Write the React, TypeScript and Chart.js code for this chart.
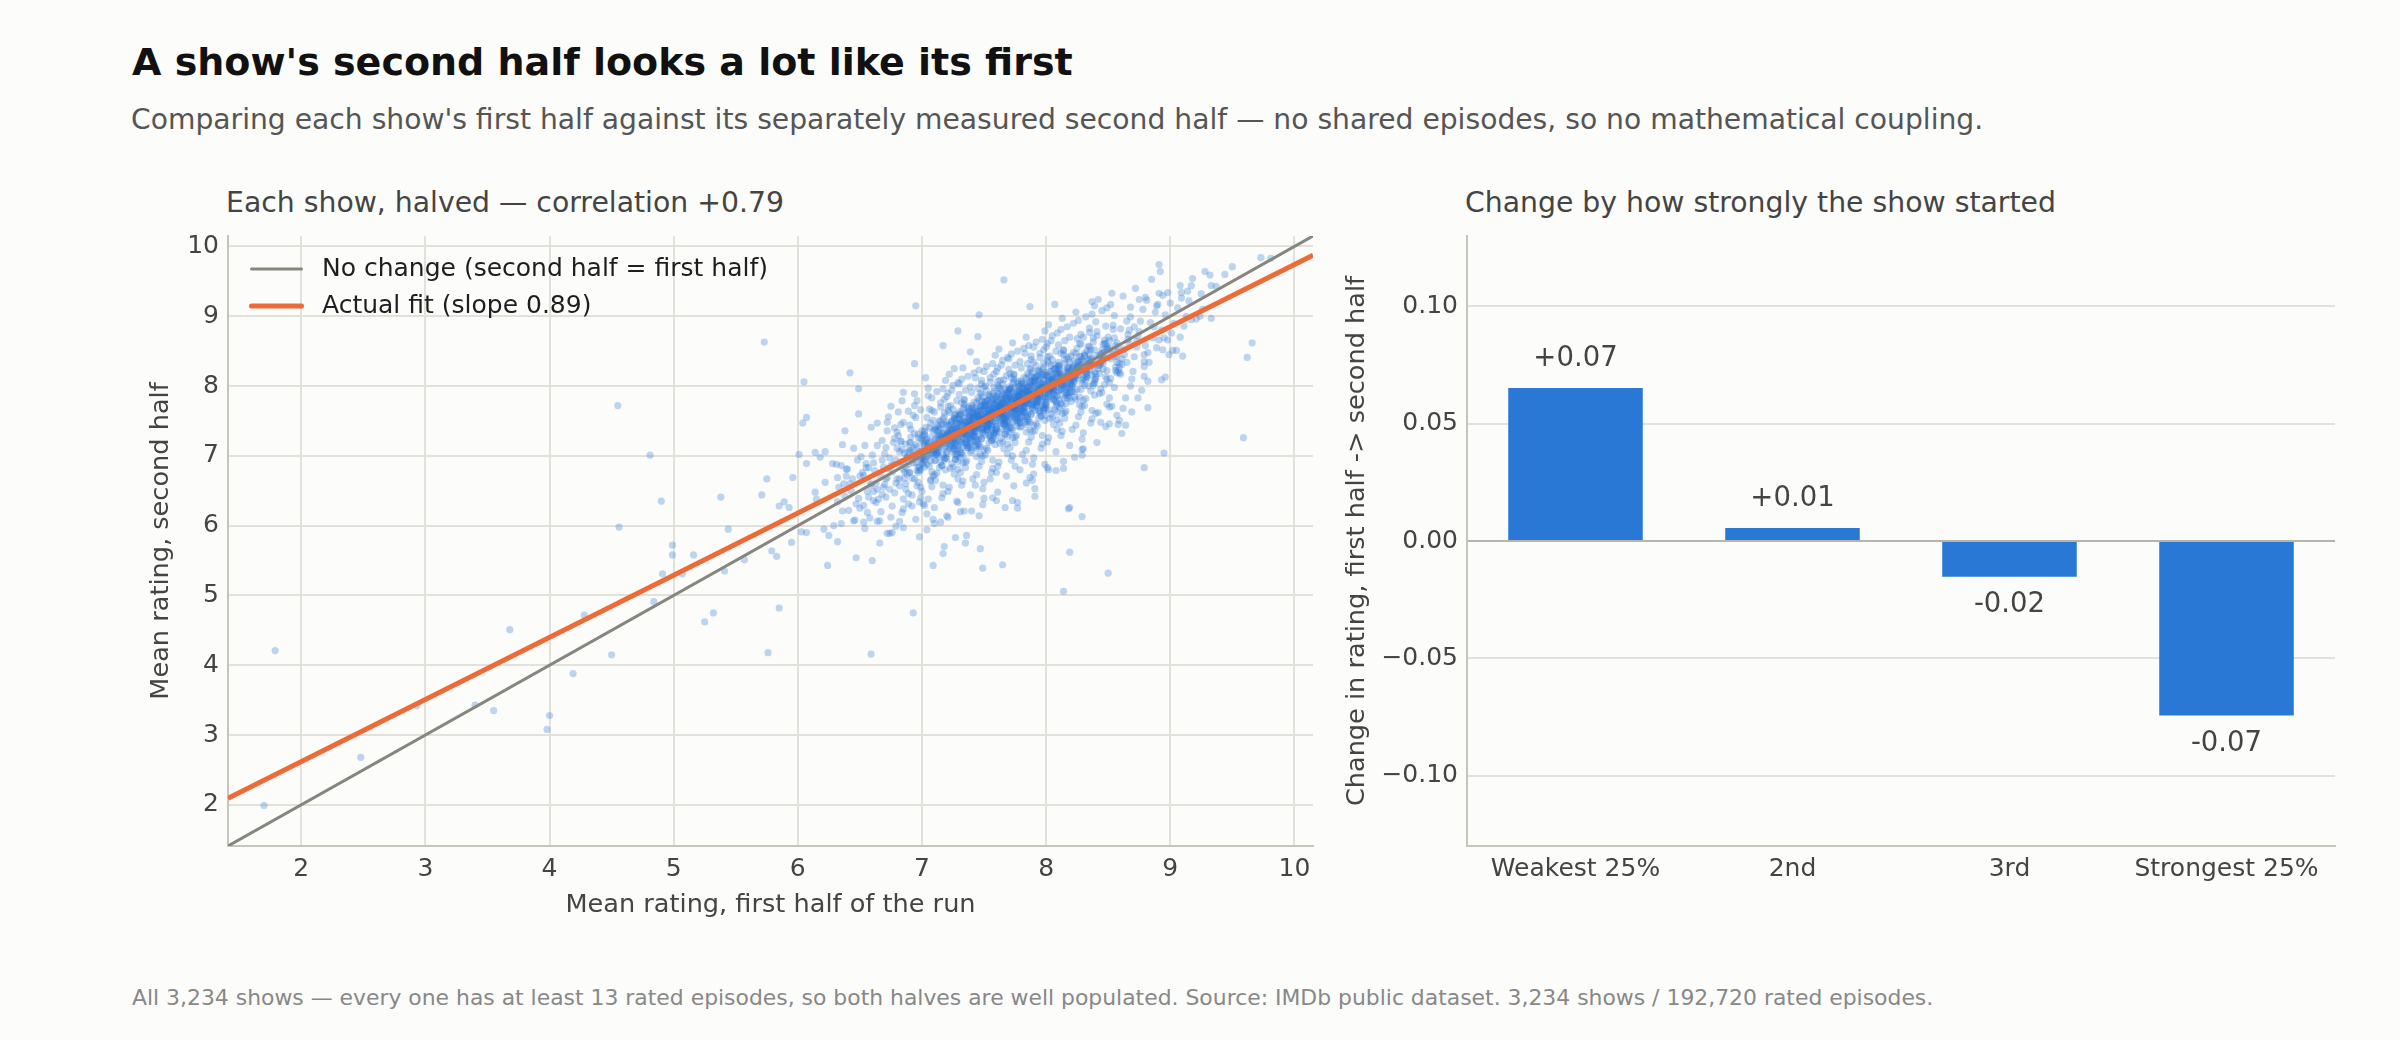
import React, { useEffect, useRef } from "react";
import { Chart, registerables } from "chart.js";

Chart.register(...registerables);

const FONT = "'DejaVu Sans', 'Noto Sans', sans-serif";
const BG = "#fcfcfa";
const INK = "#444444";
const GRID = "#e2e1da";
const SPINE = "#c5c5bc";
const ZERO = "#b5b5ad";
const BLUE = "#2a78d6";
const DOT = "rgba(42,120,214,0.3)";

// ---- Left panel: first-half vs second-half mean rating (values in hundredths, x,y pairs) ----
const ratingAxisMin = 1.41;
const ratingAxisMax = 10.15;
const ratingTickStep = 1;
const fitSlope = 0.89;
const fitIntercept = 0.84;

const outlierShows = [
  179,421, 170,199, 248,268, 293,342, 340,343, 355,335, 368,451, 400,328, 398,308, 419,388,
  428,472, 450,415, 455,772, 456,598, 481,701, 490,635, 484,491, 491,531, 499,572, 499,558,
  507,531, 516,558, 525,462, 532,475, 538,641, 544,595, 541,535, 557,551, 576,418, 659,416,
];

const lowerFringeShows = [
  573,863, 642,819, 605,806, 649,796, 694,832, 607,755, 604,747, 649,760, 638,736, 636,716,
  601,702, 607,689, 614,705, 618,698, 622,706, 628,689, 635,686, 639,681, 632,669, 596,669,
  575,667, 571,644, 585,628, 589,634, 593,626, 622,662, 614,648, 615,638, 603,591, 607,590,
  595,576, 579,564, 583,556, 621,595, 625,586, 629,600, 632,577, 624,543, 647,554, 660,550,
  666,575, 585,482, 645,607, 653,605, 656,619, 664,606, 672,589, 676,590, 679,599, 682,606,
  693,475, 709,543, 749,539, 765,544, 850,532, 814,506, 650,671, 655,683, 659,658, 664,652,
  671,667, 675,686, 682,667, 690,676, 694,667, 699,680, 653,629, 661,636, 668,645, 674,652,
  685,638, 692,644, 672,748, 678,740, 685,791, 689,764, 696,779,
];

const upperFringeShows = [
  766,952, 695,915, 746,902, 729,879, 745,871, 717,858, 739,849, 726,825, 703,812, 787,914,
  807,917, 837,921, 891,974, 973,984, 981,983, 950,971, 944,960, 932,959, 933,944, 937,943,
  914,936, 909,926, 900,919, 894,930, 891,933, 880,927, 889,915, 917,895, 924,900, 933,897,
  966,862, 962,841, 959,726, 908,870, 905,851, 910,843, 898,866, 894,852, 879,835, 882,848,
  896,813, 893,809, 882,769, 879,814, 874,783, 868,800, 861,732, 864,744, 858,745, 851,746,
  844,748, 862,768, 857,758, 851,770, 840,761, 895,704, 879,683, 829,709, 823,698, 814,682,
  808,679, 802,680, 799,688, 791,653, 791,642, 784,661, 787,669, 777,633, 777,625, 773,636,
  767,626, 760,636, 757,640, 746,614, 740,621, 731,620, 729,633, 720,614, 715,605, 709,609,
  685,624, 818,624, 819,626, 829,613, 819,562, 727,583, 736,586, 718,570, 717,560, 735,575,
  747,567, 698,634, 702,629,
];

const coreShowsLow = [
  633,655, 636,621, 631,688, 638,642, 635,603, 639,671, 632,634, 637,660,
  644,667, 641,622, 648,694, 643,650, 646,608, 640,681, 649,639, 645,711, 642,660, 647,631,
  652,676, 657,641, 654,715, 659,660, 650,625, 655,689, 658,611, 651,699, 656,649, 653,672, 659,741, 654,596, 657,683,
  661,690, 665,638, 668,722, 663,661, 667,620, 660,701, 669,655, 664,747, 662,679, 666,607, 668,694, 661,649, 664,715, 667,670, 663,633, 669,684,
  674,697, 670,659, 678,725, 672,669, 676,628, 671,712, 679,661, 673,756, 677,688, 675,612, 670,703, 678,647, 672,736, 676,677, 674,589, 679,694, 671,641, 677,719, 673,682, 675,771,
  682,706, 687,660, 680,734, 685,681, 689,646, 683,720, 686,668, 681,763, 688,697, 684,619, 680,711, 687,652, 683,745, 689,688, 685,597, 681,729, 688,674, 682,657, 686,704, 684,779, 689,631, 683,691, 687,717, 680,667, 685,748,
  693,711, 697,676, 690,744, 695,690, 699,655, 691,727, 696,679, 694,772, 698,706, 692,628, 690,719, 697,662, 693,758, 699,698, 695,609, 691,738, 698,684, 692,668, 696,713, 694,789, 699,640, 693,700, 697,726, 690,676, 695,755, 698,584, 691,709, 696,657, 694,732, 692,695, 699,766,
];

const coreShowsMid = [
  706,720, 701,689, 709,751, 703,699, 707,664, 700,736, 704,688, 708,783, 702,715, 705,638, 701,728, 709,671, 706,767, 700,707, 704,617, 707,747, 702,693, 708,677, 703,722, 705,797, 700,649, 709,709, 702,735, 706,685, 708,765, 704,594, 701,718, 707,666, 703,741, 709,704, 705,786, 700,696, 708,656, 702,730, 706,713, 704,755, 701,631, 707,702,
  715,729, 711,694, 718,762, 713,708, 710,673, 716,745, 719,697, 712,792, 714,724, 717,646, 711,737, 719,680, 715,776, 713,716, 710,626, 718,756, 712,702, 716,686, 714,731, 719,808, 717,658, 711,718, 713,744, 718,694, 715,770, 710,603, 716,727, 712,675, 714,750, 719,713, 717,796, 713,705, 711,665, 715,739, 718,722, 710,763, 716,640, 712,711, 719,729, 714,683, 717,753, 711,741, 713,700, 718,781, 715,691, 710,720,
  724,739, 729,703, 721,771, 726,717, 723,682, 728,754, 720,706, 725,801, 727,733, 722,655, 729,746, 724,689, 720,785, 726,725, 728,635, 721,765, 723,711, 727,695, 725,740, 722,817, 729,667, 724,727, 726,753, 720,703, 728,779, 721,612, 723,736, 725,684, 727,759, 722,722, 729,805, 724,714, 726,674, 720,748, 728,731, 723,772, 721,649, 725,720, 727,738, 729,692, 722,762, 724,750, 726,709, 721,790, 728,700, 723,729, 720,744, 725,767, 727,715, 729,681, 722,736, 726,724, 724,794, 720,696,
  731,748, 737,712, 734,780, 739,726, 735,691, 730,763, 736,715, 732,810, 738,742, 733,664, 737,755, 731,698, 735,794, 730,734, 739,644, 734,774, 736,720, 732,704, 738,749, 733,826, 731,676, 737,736, 735,762, 739,712, 730,788, 734,621, 732,745, 736,693, 738,768, 733,731, 737,814, 731,723, 735,683, 730,757, 739,740, 734,781, 732,658, 736,729, 738,747, 733,701, 737,771, 730,759, 735,718, 739,799, 731,709, 734,738, 738,753, 732,776, 736,724, 733,690, 737,745, 735,733, 730,803, 739,705, 734,770, 731,760, 736,741, 732,719, 738,764, 733,750,
  746,757, 741,721, 748,789, 743,735, 749,700, 740,772, 745,724, 742,819, 747,751, 744,673, 746,764, 740,707, 748,803, 743,743, 749,653, 745,783, 741,729, 747,713, 742,758, 744,835, 746,685, 740,745, 748,771, 743,721, 745,797, 749,630, 741,754, 747,702, 742,777, 744,740, 746,823, 740,732, 748,692, 743,766, 745,749, 747,790, 741,667, 749,738, 742,756, 744,710, 746,780, 740,768, 743,727, 748,808, 745,718, 747,747, 741,762, 749,785, 742,733, 744,699, 746,754, 740,742, 743,812, 745,714, 748,779, 741,769, 747,750, 742,728, 749,773, 744,759, 746,716, 740,791, 743,658, 745,764, 748,737, 741,744,
];

const coreShowsPeak = [
  755,766, 751,730, 758,798, 753,744, 750,709, 756,781, 759,733, 752,828, 754,760, 757,682, 751,773, 759,716, 755,812, 753,752, 750,662, 758,792, 752,738, 756,722, 754,767, 759,844, 757,694, 751,754, 753,780, 758,730, 755,806, 750,639, 756,763, 752,711, 754,786, 759,749, 757,832, 753,741, 751,701, 755,775, 758,758, 750,799, 756,676, 752,747, 759,765, 754,719, 757,789, 751,777, 753,736, 758,817, 755,727, 750,756, 754,771, 752,794, 756,742, 753,708, 757,763, 755,751, 750,821, 759,723, 754,788, 751,778, 756,759, 752,737, 758,782, 753,768, 757,725, 751,800, 755,667, 759,773, 754,746, 750,753,
  764,775, 769,739, 761,807, 766,753, 763,718, 768,790, 760,742, 765,837, 767,769, 762,691, 769,782, 764,725, 760,821, 766,761, 768,671, 761,801, 763,747, 767,731, 765,776, 762,853, 769,703, 764,763, 766,789, 760,739, 768,815, 761,648, 763,772, 765,720, 767,795, 762,758, 769,841, 764,750, 766,710, 760,784, 768,767, 763,808, 761,685, 765,756, 767,774, 769,728, 762,798, 764,786, 766,745, 761,826, 768,736, 763,765, 760,780, 765,803, 767,751, 769,717, 762,772, 766,760, 764,830, 760,732, 763,797, 768,787, 761,768, 767,746, 769,791, 765,777, 762,734, 766,809, 760,676, 764,782, 768,755, 763,762,
  771,784, 777,748, 774,816, 779,762, 775,727, 770,799, 776,751, 772,846, 778,778, 773,700, 777,791, 771,734, 775,830, 770,770, 779,680, 774,810, 776,756, 772,740, 778,785, 773,862, 771,712, 777,772, 775,798, 779,748, 770,824, 774,657, 772,781, 776,729, 778,804, 773,767, 777,850, 771,759, 775,719, 770,793, 779,776, 774,817, 772,694, 776,765, 778,783, 773,737, 777,807, 770,795, 775,754, 779,835, 771,745, 774,774, 778,789, 772,812, 776,760, 773,726, 777,781, 775,769, 770,839, 779,741, 774,806, 771,796, 776,777, 772,755, 778,800, 773,786, 777,743, 771,818, 775,685, 779,791, 774,764, 770,771,
  786,792, 781,756, 788,824, 783,770, 789,735, 780,807, 785,759, 782,854, 787,786, 784,708, 786,799, 780,742, 788,838, 783,778, 789,688, 785,818, 781,764, 787,748, 782,793, 784,870, 786,720, 780,780, 788,806, 783,756, 785,832, 789,665, 781,789, 787,737, 782,812, 784,775, 786,858, 780,767, 788,727, 783,801, 785,784, 787,825, 781,702, 789,773, 782,791, 784,745, 786,815, 780,803, 783,762, 788,843, 785,753, 787,782, 781,797, 789,820, 782,768, 784,734, 786,789, 780,777, 783,847, 785,749, 788,814, 781,804, 787,785, 782,763, 789,808, 784,794, 786,751, 780,826, 783,693, 785,799, 788,772,
  795,801, 791,765, 798,833, 793,779, 790,744, 796,816, 799,768, 792,863, 794,795, 797,717, 791,808, 799,751, 795,847, 793,787, 790,697, 798,827, 792,773, 796,757, 794,802, 799,879, 797,729, 791,789, 793,815, 798,765, 795,841, 790,674, 796,798, 792,746, 794,821, 799,784, 797,867, 793,776, 791,736, 795,810, 798,793, 790,834, 796,711, 792,782, 799,800, 794,754, 797,824, 791,812, 793,771, 798,852, 795,762, 790,791, 794,806, 792,829, 796,777, 793,743, 797,798, 795,786, 790,856, 799,758, 794,823, 791,813, 796,794, 792,772, 798,817,
];

const coreShowsHigh = [
  804,810, 809,774, 801,842, 806,788, 803,753, 808,825, 800,777, 805,872, 807,804, 802,726, 809,817, 804,760, 800,856, 806,796, 808,706, 801,836, 803,782, 807,766, 805,811, 802,888, 809,738, 804,798, 806,824, 800,774, 808,850, 801,683, 803,807, 805,755, 807,830, 802,793, 809,876, 804,785, 806,745, 800,819, 808,802, 803,843, 801,720, 805,791, 807,809, 809,763, 802,833, 804,821, 806,780, 801,861, 808,771, 803,800, 800,815, 805,838, 807,786, 809,752, 802,807, 806,795, 804,865, 800,767,
  811,819, 817,783, 814,851, 819,797, 815,762, 810,834, 816,786, 812,881, 818,813, 813,735, 817,826, 811,769, 815,865, 810,805, 819,715, 814,845, 816,791, 812,775, 818,820, 813,897, 811,747, 817,807, 815,833, 819,783, 810,859, 814,692, 812,816, 816,764, 818,839, 813,802, 817,885, 811,794, 815,754, 810,828, 819,811, 814,852, 812,729, 816,800, 818,818, 813,772, 817,842, 810,830, 815,789, 819,870, 811,780, 814,809, 818,824, 812,847, 816,795, 813,761,
  826,828, 821,792, 828,860, 823,806, 829,771, 820,843, 825,795, 822,890, 827,822, 824,744, 826,835, 820,778, 828,874, 823,814, 829,724, 825,854, 821,800, 827,784, 822,829, 824,906, 826,756, 820,816, 828,842, 823,792, 825,868, 829,701, 821,825, 827,773, 822,848, 824,811, 826,894, 820,803, 828,763, 823,837, 825,820, 827,861, 821,738, 829,809, 822,827, 824,781,
  835,837, 831,801, 838,869, 833,815, 830,780, 836,852, 839,804, 832,899, 834,831, 837,753, 831,844, 839,787, 835,883, 833,823, 830,733, 838,863, 832,809, 836,793, 834,838, 839,915, 837,765, 831,825, 833,851, 838,801, 835,877, 830,710, 836,834, 832,782, 834,857, 839,820, 837,903, 833,812, 831,772, 835,846, 838,829, 830,870, 836,747, 832,818,
  844,846, 849,810, 841,878, 846,824, 843,789, 848,861, 840,813, 845,908, 847,840, 842,762, 849,853, 844,796, 840,892, 846,832, 848,742, 841,872, 843,818, 847,802, 845,847, 842,924, 849,774, 844,834, 846,860, 840,810, 848,886, 841,719, 843,843, 845,791, 847,866, 842,829, 849,912,
  851,855, 857,819, 854,887, 859,833, 855,798, 850,870, 856,822, 852,917, 858,849, 853,771, 857,862, 851,805, 855,901, 850,841, 859,751, 854,881, 856,827, 852,811, 858,856, 853,933, 851,783, 857,843, 855,869, 859,819,
  866,867, 861,831, 868,899, 863,845, 869,810, 860,882, 865,834, 862,929, 867,861, 864,783, 866,874, 860,817, 868,913, 863,853, 869,763, 865,893, 861,839, 867,880,
  875,878, 871,842, 878,910, 873,856, 870,821, 876,893, 879,845, 872,940, 874,872, 877,794, 871,885, 879,828, 875,924, 873,864,
  884,891, 889,855, 881,923, 886,869, 883,834, 888,906, 880,858, 885,953, 887,885, 882,807,
  896,902, 891,866, 898,934, 893,880, 899,845, 890,917, 895,869, 892,964,
  906,912, 901,876, 908,944, 903,890, 909,934, 902,851,
  915,922, 911,886, 918,954, 913,900, 917,944,
  925,932, 921,896, 928,964, 926,910,
];

const denseCoreShows = [
  681,688, 684,709, 686,677, 688,699, 683,721, 687,683, 689,705, 685,692,
  692,697, 695,716, 697,684, 690,708, 699,725, 693,690, 696,703, 698,679, 691,719, 694,701, 697,731, 699,694,
  701,705, 704,724, 707,693, 709,716, 702,731, 705,700, 708,712, 700,688, 703,719, 706,708, 709,736, 701,697, 704,714, 707,727, 702,684, 705,718, 708,703, 700,722, 703,695, 706,740,
  713,714, 717,733, 711,702, 719,725, 714,740, 710,709, 716,721, 718,697, 712,728, 715,717, 719,745, 711,706, 716,723, 713,736, 710,693, 718,727, 714,712, 717,731, 712,704, 715,749, 719,718, 711,724, 716,686, 713,729, 718,710, 710,738, 714,719, 717,701,
  722,723, 726,742, 729,711, 721,734, 724,749, 727,718, 720,730, 725,706, 728,737, 723,726, 726,754, 729,715, 721,732, 724,745, 727,702, 720,736, 725,721, 728,740, 722,713, 726,758, 729,727, 723,733, 727,695, 724,738, 720,719, 728,747, 721,728, 725,710, 722,744, 726,724, 729,735, 723,716, 727,750, 720,725, 724,731, 728,707,
  734,732, 738,751, 731,720, 736,743, 739,758, 732,727, 735,739, 737,715, 730,746, 733,735, 738,763, 736,724, 731,741, 734,754, 737,711, 739,745, 732,730, 735,749, 730,722, 733,767, 736,736, 738,742, 731,704, 734,747, 737,728, 739,756, 732,737, 735,719, 730,753, 733,733, 736,744, 738,725, 731,759, 734,734, 737,740, 739,716, 732,750, 735,731, 730,738, 733,712, 736,761, 738,736,
  743,741, 747,760, 740,729, 745,752, 749,767, 742,736, 746,748, 748,724, 741,755, 744,744, 747,772, 749,733, 743,750, 745,763, 740,720, 748,754, 742,739, 746,758, 741,731, 744,776, 747,745, 749,751, 743,713, 745,756, 740,737, 748,765, 742,746, 746,728, 741,762, 744,742, 747,753, 749,734, 743,768, 745,743, 740,749, 748,725, 742,759, 746,740, 741,747, 744,721, 747,770, 749,745, 743,735, 745,757, 740,753, 748,739,
  752,750, 756,769, 759,738, 754,761, 751,776, 757,745, 753,757, 758,733, 750,764, 755,753, 759,781, 752,742, 756,759, 751,772, 754,729, 758,763, 753,748, 757,767, 750,740, 755,785, 759,754, 752,760, 756,722, 751,765, 754,746, 758,774, 753,755, 757,737, 750,771, 755,751, 759,762, 752,743, 756,777, 751,752, 754,758, 758,734, 753,779, 757,749, 750,756, 755,730, 759,768, 752,757, 756,744, 751,761, 753,739, 757,773, 750,747, 754,766,
  761,759, 765,778, 768,747, 763,770, 760,785, 766,754, 762,766, 767,742, 769,773, 764,762, 761,790, 767,751, 763,768, 765,781, 760,738, 768,772, 762,757, 766,776, 769,749, 764,794, 761,763, 765,769, 767,731, 763,774, 760,755, 768,783, 762,764, 766,746, 769,780, 764,760, 761,771, 765,752, 767,786, 763,761, 760,767, 768,743, 762,788, 766,758, 769,765, 764,739, 761,777, 765,766, 767,753, 763,770, 760,775, 768,760, 762,748, 766,782,
  774,768, 778,787, 771,756, 776,779, 779,794, 772,763, 775,775, 777,751, 770,782, 773,771, 778,799, 776,760, 771,777, 774,790, 779,747, 772,781, 775,766, 777,785, 770,758, 773,803, 776,772, 778,778, 771,740, 774,783, 779,764, 772,792, 775,773, 777,755, 770,789, 773,769, 776,780, 778,761, 771,795, 774,770, 777,776, 779,752, 772,797, 775,767, 770,774, 773,748, 776,788, 778,771, 771,782, 774,757, 777,793, 779,774, 772,765, 775,784,
  783,776, 787,795, 780,764, 785,787, 789,802, 782,771, 786,783, 788,759, 781,790, 784,779, 787,807, 789,768, 783,785, 785,798, 780,755, 788,789, 782,774, 786,793, 781,766, 784,811, 787,780, 789,786, 783,748, 785,791, 780,772, 788,800, 782,781, 786,763, 781,797, 784,777, 787,788, 789,769, 783,803, 785,778, 780,784, 788,760, 782,794, 786,775, 781,782, 784,756, 787,805, 789,780, 783,770, 785,792, 780,789, 788,774,
  792,785, 796,804, 799,773, 794,796, 791,811, 797,780, 793,792, 798,768, 790,799, 795,788, 799,816, 792,777, 796,794, 791,807, 794,764, 798,798, 793,783, 797,802, 790,775, 795,820, 799,789, 792,795, 796,757, 791,800, 794,781, 798,809, 793,790, 797,772, 790,806, 795,786, 799,797, 792,778, 796,812, 791,789, 794,793, 798,769, 793,814, 797,784, 790,791, 795,765, 799,803, 792,788,
  803,794, 807,813, 800,782, 805,805, 809,820, 802,789, 806,801, 808,777, 801,808, 804,797, 807,825, 809,786, 803,803, 805,816, 800,773, 808,807, 802,792, 806,811, 801,784, 804,829, 807,798, 809,804, 803,766, 805,809, 800,790, 808,818, 802,799, 806,781, 801,815, 804,795, 807,806, 809,787, 803,821, 805,796, 800,802, 808,778, 802,812, 806,793,
  812,803, 816,822, 819,791, 814,814, 811,829, 817,798, 813,810, 818,786, 810,817, 815,806, 819,834, 812,795, 816,812, 811,825, 814,782, 818,816, 813,801, 817,820, 810,793, 815,838, 819,807, 812,813, 816,775, 811,818, 814,799, 818,827, 813,808, 817,790, 810,824, 815,804, 819,815, 812,796,
  823,812, 827,831, 820,800, 825,823, 829,838, 822,807, 826,819, 828,795, 821,826, 824,815, 827,843, 829,804, 823,821, 825,834, 820,791, 828,825, 822,810, 826,829, 821,802, 824,847, 827,816, 829,822, 823,784, 825,827, 820,808, 828,836,
  832,821, 836,840, 839,809, 834,832, 831,847, 837,816, 833,828, 838,804, 830,835, 835,824, 839,852, 832,813, 836,830, 831,843, 834,800, 838,834, 833,819, 837,838, 830,811, 835,856,
  843,830, 847,849, 840,818, 845,841, 849,856, 842,825, 846,837, 848,813, 841,844, 844,833, 847,861, 849,822, 843,839, 845,852,
  852,839, 856,858, 859,827, 854,850, 851,865, 857,834, 853,846, 858,822, 850,853, 855,842,
];

// ---- Right panel: mean change by first-half quartile ----
const quartileLabels = ["Weakest 25%", "2nd", "3rd", "Strongest 25%"];
const quartileChange = [0.0652, 0.0055, -0.0152, -0.0744];
const changeAxisMin = -0.13;
const changeAxisMax = 0.13;
const changeTickStep = 0.05;

const toPoints = (pairs: number[]) => {
  const pts: { x: number; y: number }[] = [];
  for (let i = 0; i + 1 < pairs.length; i += 2) pts.push({ x: pairs[i] / 100, y: pairs[i + 1] / 100 });
  return pts;
};

const showPoints = [
  ...toPoints(outlierShows),
  ...toPoints(lowerFringeShows),
  ...toPoints(upperFringeShows),
  ...toPoints(coreShowsLow),
  ...toPoints(coreShowsMid),
  ...toPoints(coreShowsPeak),
  ...toPoints(coreShowsHigh),
  ...toPoints(denseCoreShows),
];

const fmtChangeTick = (v: number) => {
  if (Math.abs(v) < 1e-9) return "0.00";
  const s = Math.abs(v).toFixed(2);
  return v < 0 ? "\u2212" + s : s;
};
const fmtChangeLabel = (v: number) => (v >= 0 ? "+" : "-") + Math.abs(v).toFixed(2);

const insideLegend = {
  id: "insideLegend",
  afterDatasetsDraw(chart: any) {
    const { ctx, chartArea } = chart;
    const items = chart.data.datasets.filter((d: any) => d.type === "line");
    ctx.save();
    ctx.font = `25px ${FONT}`;
    ctx.textBaseline = "middle";
    ctx.textAlign = "left";
    items.forEach((ds: any, i: number) => {
      const y = chartArea.top + 33 + i * 37;
      const x0 = chartArea.left + 23.5;
      ctx.strokeStyle = ds.borderColor;
      ctx.lineWidth = ds.borderWidth;
      ctx.lineCap = "round";
      ctx.beginPath();
      ctx.moveTo(x0, y);
      ctx.lineTo(x0 + 50, y);
      ctx.stroke();
      ctx.fillStyle = "#1e1e1e";
      ctx.fillText(ds.label, chartArea.left + 94, y);
    });
    ctx.restore();
  },
};

const barValueLabels = {
  id: "barValueLabels",
  afterDatasetsDraw(chart: any) {
    const { ctx } = chart;
    const meta = chart.getDatasetMeta(0);
    const values = chart.data.datasets[0].data as number[];
    ctx.save();
    ctx.font = `27.5px ${FONT}`;
    ctx.fillStyle = INK;
    ctx.textAlign = "center";
    ctx.textBaseline = "middle";
    meta.data.forEach((bar: any, i: number) => {
      const v = values[i];
      const y = v >= 0 ? bar.y - 29.5 : bar.y + 28.5;
      ctx.fillText(fmtChangeLabel(v), bar.x, y);
    });
    ctx.restore();
  },
};

export default function App() {
  const leftRef = useRef<HTMLCanvasElement | null>(null);
  const rightRef = useRef<HTMLCanvasElement | null>(null);

  useEffect(() => {
    Chart.defaults.font.family = FONT;
    const tickFont = { family: FONT, size: 25 };
    const axisTitleFont = { family: FONT, size: 25.6 };

    const left = new Chart(leftRef.current as HTMLCanvasElement, {
      type: "scatter",
      data: {
        datasets: [
          {
            type: "line",
            label: "No change (second half = first half)",
            data: [
              { x: ratingAxisMin, y: ratingAxisMin },
              { x: ratingAxisMax, y: ratingAxisMax },
            ],
            borderColor: "#86867f",
            borderWidth: 3,
            pointRadius: 0,
            fill: false,
            order: 2,
          } as any,
          {
            type: "line",
            label: `Actual fit (slope ${fitSlope.toFixed(2)})`,
            data: [
              { x: ratingAxisMin, y: fitSlope * ratingAxisMin + fitIntercept },
              { x: ratingAxisMax, y: fitSlope * ratingAxisMax + fitIntercept },
            ],
            borderColor: "#ee6a36",
            borderWidth: 5,
            pointRadius: 0,
            fill: false,
            order: 1,
          } as any,
          {
            type: "scatter",
            label: "Shows",
            data: showPoints,
            backgroundColor: DOT,
            borderWidth: 0,
            pointRadius: 3.6,
            order: 3,
          } as any,
        ],
      },
      options: {
        animation: false,
        responsive: false,
        devicePixelRatio: 1,
        events: [],
        layout: { padding: { top: 33, right: 17, bottom: 0, left: 0 } },
        plugins: { legend: { display: false }, tooltip: { enabled: false } },
        scales: {
          x: {
            type: "linear",
            min: ratingAxisMin,
            max: ratingAxisMax,
            ticks: { stepSize: ratingTickStep, includeBounds: false, padding: 8, color: INK, font: tickFont },
            grid: { color: GRID, lineWidth: 2, drawTicks: false },
            border: { display: true, color: SPINE, width: 2 },
            title: {
              display: true,
              text: "Mean rating, first half of the run",
              color: INK,
              font: axisTitleFont,
              padding: { top: 0, bottom: 2 },
            },
            afterFit: (s: any) => {
              s.height = 77;
            },
          },
          y: {
            type: "linear",
            min: ratingAxisMin,
            max: ratingAxisMax,
            ticks: { stepSize: ratingTickStep, includeBounds: false, padding: 9, color: INK, font: tickFont },
            grid: { color: GRID, lineWidth: 2, drawTicks: false },
            border: { display: true, color: SPINE, width: 2 },
            title: {
              display: true,
              text: "Mean rating, second half",
              color: INK,
              font: axisTitleFont,
              padding: { top: 46, bottom: 0 },
            },
            afterFit: (s: any) => {
              s.width = 128;
            },
          },
        },
      } as any,
      plugins: [insideLegend],
    });

    const right = new Chart(rightRef.current as HTMLCanvasElement, {
      type: "bar",
      data: {
        labels: quartileLabels,
        datasets: [
          {
            label: "Change in rating",
            data: quartileChange,
            backgroundColor: BLUE,
            borderWidth: 0,
            barPercentage: 0.62,
            categoryPercentage: 1,
          },
        ],
      },
      options: {
        animation: false,
        responsive: false,
        devicePixelRatio: 1,
        events: [],
        layout: { padding: { top: 33, right: 36, bottom: 0, left: 0 } },
        plugins: { legend: { display: false }, tooltip: { enabled: false } },
        scales: {
          x: {
            grid: { display: false, drawTicks: false },
            border: { display: true, color: SPINE, width: 2 },
            ticks: { padding: 8, color: INK, font: tickFont },
            afterFit: (s: any) => {
              s.height = 77;
            },
          },
          y: {
            min: changeAxisMin,
            max: changeAxisMax,
            ticks: {
              stepSize: changeTickStep,
              includeBounds: false,
              padding: 9,
              color: INK,
              font: tickFont,
              callback: (v: any) => fmtChangeTick(Number(v)),
            },
            grid: {
              color: (c: any) => (c.tick && Math.abs(c.tick.value) < 1e-9 ? ZERO : GRID),
              lineWidth: 2,
              drawTicks: false,
            },
            border: { display: true, color: SPINE, width: 2 },
            title: {
              display: true,
              text: "Change in rating, first half -> second half",
              color: INK,
              font: axisTitleFont,
              padding: { top: 11, bottom: 0 },
            },
            afterFit: (s: any) => {
              s.width = 136;
            },
          },
        },
      } as any,
      plugins: [barValueLabels],
    });

    return () => {
      left.destroy();
      right.destroy();
    };
  }, []);

  const text = (extra: React.CSSProperties): React.CSSProperties => ({
    position: "absolute",
    fontFamily: FONT,
    whiteSpace: "nowrap",
    margin: 0,
    ...extra,
  });

  return (
    <div
      style={{
        position: "absolute",
        left: 0,
        top: 0,
        width: 2400,
        height: 1040,
        background: BG,
        overflow: "hidden",
      }}
    >
      <div style={text({ left: 132, top: 43, fontSize: 38, lineHeight: "38px", fontWeight: "bold", color: "#111" })}>
        A show's second half looks a lot like its first
      </div>
      <div style={text({ left: 131, top: 106, fontSize: 28.2, lineHeight: "28.2px", color: "#555" })}>
        Comparing each show's first half against its separately measured second half — no shared episodes, so no
        mathematical coupling.
      </div>
      <div style={text({ left: 226, top: 188.5, fontSize: 28.3, lineHeight: "28.3px", color: INK })}>
        Each show, halved — correlation +0.79
      </div>
      <div style={text({ left: 1465, top: 188.5, fontSize: 28.3, lineHeight: "28.3px", color: INK })}>
        Change by how strongly the show started
      </div>
      <canvas
        ref={leftRef}
        width={1230}
        height={720}
        style={{ position: "absolute", left: 100, top: 203, width: 1230, height: 720, display: "block" }}
      />
      <canvas
        ref={rightRef}
        width={1040}
        height={720}
        style={{ position: "absolute", left: 1331, top: 203, width: 1040, height: 720, display: "block" }}
      />
      <div style={text({ left: 132, top: 987, fontSize: 21.9, lineHeight: "21.9px", color: "#888" })}>
        All 3,234 shows — every one has at least 13 rated episodes, so both halves are well populated. Source: IMDb
        public dataset. 3,234 shows / 192,720 rated episodes.
      </div>
    </div>
  );
}
